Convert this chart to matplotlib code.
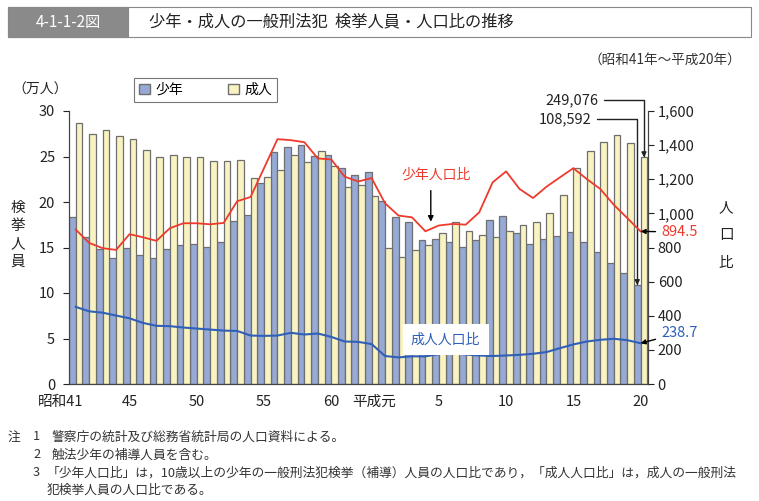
import matplotlib
matplotlib.use("Agg")
import matplotlib.pyplot as plt
import matplotlib.transforms as mtransforms
from matplotlib.patches import Rectangle, Patch
from matplotlib.ticker import FuncFormatter

plt.rcParams['font.family'] = ['Noto Sans CJK JP', 'DejaVu Sans']

# 昭和41年～平成20年 (43 years)
years = list(range(43))
tick_pos = [0, 4, 9, 14, 19, 23, 27, 32, 37, 42]
tick_labels = ['昭和41', '45', '50', '55', '60', '平成元', '5', '10', '15', '20']

# 検挙人員 (万人)
juvenile = [18.3, 16.1, 14.8, 13.9, 14.9, 14.2, 13.8, 14.8, 15.3, 15.4,
            15.1, 15.6, 17.9, 18.6, 22.1, 25.5, 26.0, 26.3, 25.1, 25.2,
            23.7, 23.0, 23.3, 20.1, 18.4, 17.8, 15.8, 15.9, 15.6, 15.1,
            15.8, 18.0, 18.5, 16.6, 15.4, 15.9, 16.3, 16.7, 15.6, 14.5,
            13.3, 12.2, 10.8592]
adult = [28.7, 27.5, 27.9, 27.25, 26.95, 25.7, 25.0, 25.15, 25.0, 24.9,
         24.5, 24.55, 24.65, 22.65, 22.75, 23.5, 25.15, 24.4, 25.6, 23.95,
         21.6, 21.9, 20.65, 14.9, 14.0, 14.75, 15.25, 16.6, 17.8, 16.8,
         16.35, 16.15, 16.8, 17.5, 17.85, 18.8, 20.75, 23.75, 25.6, 26.6,
         27.35, 26.45, 24.9076]

# 人口比
juvenile_rate = [905, 827, 796, 786, 878, 860, 839, 913, 942, 942,
                 936, 944, 1071, 1096, 1265, 1435, 1429, 1417, 1322, 1316,
                 1215, 1187, 1207, 1059, 987, 977, 895, 929, 938, 934,
                 1006, 1182, 1246, 1143, 1090, 1156, 1211, 1265, 1201, 1143,
                 1051, 973, 894.5]
adult_rate = [452, 426, 418, 401, 385, 358, 341, 339, 331, 325,
              319, 313, 311, 284, 282, 284, 300, 290, 296, 276,
              249, 247, 234, 164, 156, 162, 162, 175, 183, 173,
              167, 164, 167, 171, 177, 187, 210, 232, 249, 259,
              265, 257, 238.7]

W, H = 759, 501
def fx(x):
    return x / W
def fy(y):
    return 1 - y / H

blue = '#97aad6'
yellow = '#f8f3c1'
edge = '#6f6f6f'
red = '#ee3a2c'
lblue = '#2f5fb8'

fig = plt.figure(figsize=(7.59, 5.01), dpi=100)
ax = fig.add_axes([fx(69), fy(384), fx(648) - fx(69), fy(111) - fy(384)])
ax2 = ax.twinx()

bw = 0.5
ax.bar([i - 0.25 for i in years], juvenile, width=bw, color=blue, edgecolor=edge, linewidth=0.9)
ax.bar([i + 0.25 for i in years], adult, width=bw, color=yellow, edgecolor=edge, linewidth=0.9)
ax.set_xlim(-0.5, 42.55)
ax.set_ylim(0, 30)
ax.set_yticks(range(0, 31, 5))
ax.set_xticks(tick_pos)
ax.set_xticklabels(tick_labels)
ax.tick_params(axis='x', length=0, pad=8, labelsize=10.5, colors='#222222')
ax.tick_params(axis='y', length=4, width=0.8, pad=6, labelsize=10.5, colors='#222222')

# era labels: keep the number part under its year
for lab, dx in ((ax.get_xticklabels()[0], 8), (ax.get_xticklabels()[5], 11)):
    lab.set_horizontalalignment('right')
    lab.set_transform(lab.get_transform() + mtransforms.ScaledTranslation(dx / 100, 0, fig.dpi_scale_trans))

ax2.plot(years, juvenile_rate, color=red, lw=1.3)
ax2.plot(years, adult_rate, color=lblue, lw=1.5)
ax2.set_ylim(0, 1600)
ax2.set_yticks(range(0, 1601, 200))
ax2.yaxis.set_major_formatter(FuncFormatter(lambda v, p: f'{v:,.0f}'))
ax2.tick_params(axis='y', length=4, width=0.8, pad=3, labelsize=10.5, colors='#222222')

for a in (ax, ax2):
    a.spines['top'].set_visible(False)
    for s in ('left', 'right', 'bottom'):
        a.spines[s].set_color('#444444')
        a.spines[s].set_linewidth(0.8)

# header
fig.patches.append(Rectangle((fx(8), fy(37)), fx(751) - fx(8), fy(7) - fy(37),
                             transform=fig.transFigure, facecolor='white', edgecolor='#888888', lw=0.8))
fig.patches.append(Rectangle((fx(8), fy(37)), fx(128) - fx(8), fy(7) - fy(37),
                             transform=fig.transFigure, facecolor='#8a8a8a', edgecolor='#888888', lw=0.8))
fig.text(fx(68), fy(22), '4-1-1-2図', color='white', fontsize=11, ha='center', va='center')
fig.text(fx(149), fy(22), '少年・成人の一般刑法犯  検挙人員・人口比の推移', color='#222222',
         fontsize=11.7, ha='left', va='center')
fig.text(fx(741), fy(60), '（昭和41年～平成20年）', fontsize=9.8, ha='right', va='center', color='#333333')

# axis titles
fig.text(fx(40), fy(90), '（万人）', fontsize=10, ha='center', va='center', color='#222222')
for ch, yy in zip('検挙人員', [208, 226, 244, 262]):
    fig.text(fx(18), fy(yy), ch, fontsize=10.5, ha='center', va='center', color='#222222')
for ch, yy in zip('人口比', [208, 235, 263]):
    fig.text(fx(726), fy(yy), ch, fontsize=10.5, ha='center', va='center', color='#222222')

# legend
handles = [Patch(facecolor=blue, edgecolor=edge, label='少年'),
           Patch(facecolor=yellow, edgecolor=edge, label='成人')]
leg = fig.legend(handles=handles, loc='upper left', bbox_to_anchor=(fx(134), fy(78)), ncol=2,
                 fontsize=10, frameon=True, fancybox=False, edgecolor='#555555',
                 handlelength=0.8, handleheight=0.8, handletextpad=0.4, columnspacing=3.2,
                 borderpad=0.35, borderaxespad=0)
leg.get_frame().set_linewidth(0.8)

# series labels
ax2.text(26.8, 1230, '少年人口比', color=red, fontsize=10, ha='center', va='center')
ax2.annotate('', xy=(26.4, 935), xytext=(26.4, 1150),
             arrowprops=dict(arrowstyle='-|>', color='black', lw=1, mutation_scale=8))
ax2.text(27.5, 262, '成人人口比', color=lblue, fontsize=10, ha='center', va='center',
         bbox=dict(facecolor='white', edgecolor='none', boxstyle='square,pad=0.6'))

# end-value callouts
ax2.annotate('894.5', xy=(years[-1], juvenile_rate[-1]), xytext=(fx(661), fy(232)),
             textcoords='figure fraction', color=red, fontsize=10.5, ha='left', va='center',
             arrowprops=dict(arrowstyle='-|>', color='black', lw=1, mutation_scale=7, shrinkA=2, shrinkB=0))
ax2.annotate('238.7', xy=(years[-1], adult_rate[-1]), xytext=(fx(661), fy(333)),
             textcoords='figure fraction', color=lblue, fontsize=10.5, ha='left', va='center',
             arrowprops=dict(arrowstyle='-|>', color='black', lw=1, mutation_scale=7, shrinkA=2, shrinkB=0))
ax.annotate('249,076', xy=(years[-1] + 0.25, adult[-1]), xytext=(fx(598), fy(100)),
            textcoords='figure fraction', color='#222222', fontsize=10.5, ha='right', va='center',
            arrowprops=dict(arrowstyle='-|>', color='#222222', lw=1, mutation_scale=7, shrinkA=2, shrinkB=0,
                            connectionstyle='angle,angleA=0,angleB=90,rad=0'))
ax.annotate('108,592', xy=(years[-1] - 0.25, juvenile[-1]), xytext=(fx(591), fy(119)),
            textcoords='figure fraction', color='#222222', fontsize=10.5, ha='right', va='center',
            arrowprops=dict(arrowstyle='-|>', color='#222222', lw=1, mutation_scale=7, shrinkA=2, shrinkB=0,
                            connectionstyle='angle,angleA=0,angleB=90,rad=0'))

# notes
notes = [
    (8, 437, '注'), (33, 437, '1'), (52, 437, '警察庁の統計及び総務省統計局の人口資料による。'),
    (33, 455, '2'), (52, 455, '触法少年の補導人員を含む。'),
    (33, 473, '3'), (47, 473, '「少年人口比」は，10歳以上の少年の一般刑法犯検挙（補導）人員の人口比であり，「成人人口比」は，成人の一般刑法'),
    (47, 490, '犯検挙人員の人口比である。'),
]
for x, y, s in notes:
    fig.text(fx(x), fy(y), s, fontsize=9.2, ha='left', va='center', color='#333333')

fig.savefig('out.png', dpi=100)
